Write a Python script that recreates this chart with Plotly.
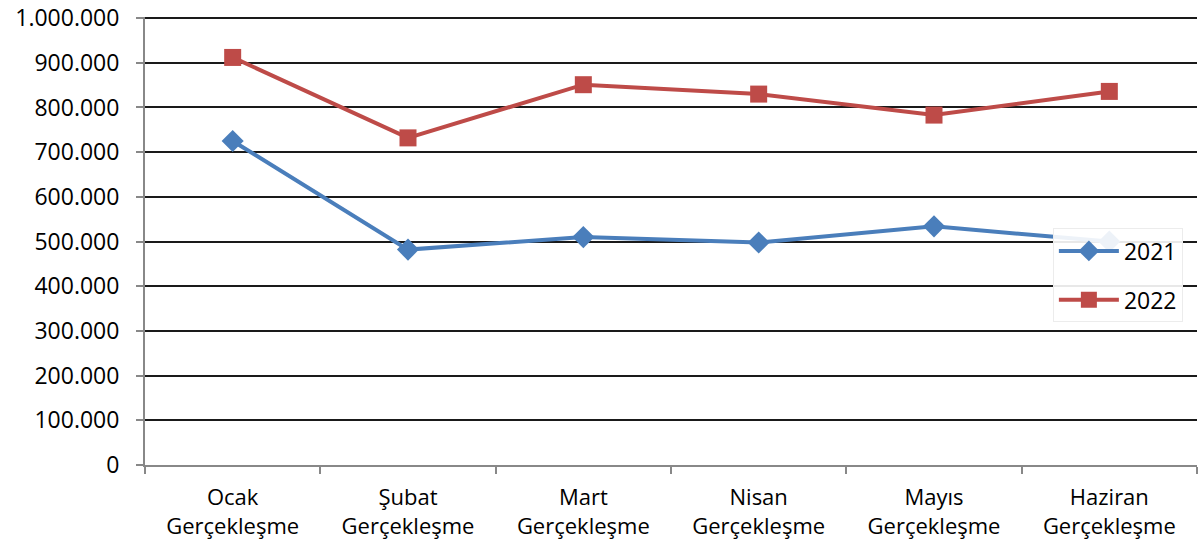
import plotly.graph_objects as go

categories = ["Ocak<br>Gerçekleşme", "Şubat<br>Gerçekleşme", "Mart<br>Gerçekleşme",
              "Nisan<br>Gerçekleşme", "Mayıs<br>Gerçekleşme", "Haziran<br>Gerçekleşme"]
values_2021 = [725000, 482000, 510000, 498000, 534000, 500000]
values_2022 = [912000, 732000, 851000, 830000, 783000, 836000]
tick_vals = [0, 100000, 200000, 300000, 400000, 500000, 600000, 700000, 800000, 900000, 1000000]
tick_text = ["0", "100.000", "200.000", "300.000", "400.000", "500.000", "600.000",
             "700.000", "800.000", "900.000", "1.000.000"]

font_family = "'Open Sans', Lato, sans-serif"

fig = go.Figure()
fig.add_trace(go.Scatter(x=categories, y=values_2021, name="2021", mode="lines+markers",
                         legendgroup="a",
                         line=dict(color="#4a7ebb", width=4),
                         marker=dict(symbol="diamond", size=17, color="#4a7ebb")))
fig.add_trace(go.Scatter(x=categories, y=values_2022, name="2022", mode="lines+markers",
                         legendgroup="b",
                         line=dict(color="#be4b48", width=4),
                         marker=dict(symbol="square", size=17, color="#be4b48")))

fig.update_layout(
    width=1201, height=550,
    margin=dict(l=145, r=4, t=17, b=85),
    paper_bgcolor="white", plot_bgcolor="white",
    font=dict(family=font_family, size=23, color="black"),
    legend=dict(x=0.863, y=0.528, xanchor="left", yanchor="top",
                bgcolor="rgba(255,255,255,0.9)", bordercolor="#ececec", borderwidth=1,
                font=dict(size=23), itemwidth=60, tracegroupgap=16,
                traceorder="grouped"),
    showlegend=True,
)
fig.update_xaxes(showgrid=False, showline=True, linecolor="#888888", linewidth=2,
                 ticks="outside", tickson="boundaries", ticklen=7, tickcolor="#888888",
                 tickwidth=2, tickfont=dict(size=22), range=[-0.5, 5.5], automargin=False,
                 ticklabelstandoff=12)
fig.update_yaxes(range=[0, 1002500], tickvals=tick_vals, ticktext=tick_text,
                 showgrid=True, gridcolor="#1a1a1a", gridwidth=2,
                 showline=True, linecolor="#888888", linewidth=2,
                 ticks="outside", ticklen=7, tickcolor="#888888", tickwidth=2,
                 tickfont=dict(size=23), zeroline=False, automargin=False,
                 ticklabelstandoff=12, ticklabeloverflow="allow")

fig.write_html("out.html", config={"displayModeBar": False},
               post_script="document.body.style.margin='0';")
